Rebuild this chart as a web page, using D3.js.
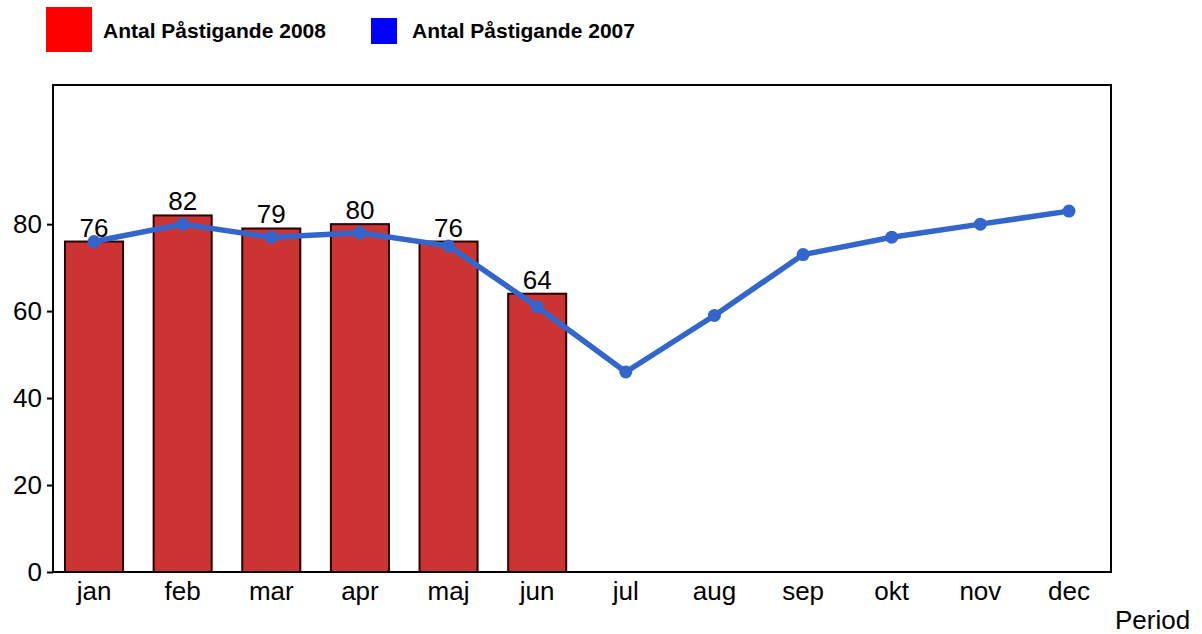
<!DOCTYPE html>
<html><head><meta charset="utf-8">
<script src="https://cdn.jsdelivr.net/npm/d3@7"></script>
<style>body{margin:0;background:#fff}svg{display:block;font-family:"Liberation Sans",Arial,sans-serif}</style>
</head><body>
<svg id="c" width="1202" height="634"></svg>
<script>
const months = ["jan","feb","mar","apr","maj","jun","jul","aug","sep","okt","nov","dec"];
const bars2008 = [76,82,79,80,76,64];
const line2007 = [76,80,77,78,75,61,46,59,73,77,80,83];
const yTicks = [0,20,40,60,80];
const legendLabels = ["Antal Påstigande 2008","Antal Påstigande 2007"];
const xTitle = "Period";

const svg = d3.select("#c");
const L = 53, R = 1111, T = 85, B = 572;
const x = d3.scaleBand().domain(months).range([49.7, 1113.3]).paddingInner(0.345).paddingOuter(0.1725);
const y = d3.scaleLinear().domain([0,112]).range([B, T]);
const cx = m => x(m) + x.bandwidth()/2;

// bars
svg.append("g").selectAll("rect").data(bars2008).join("rect")
  .attr("x",(d,i)=>x(months[i])).attr("y",d=>y(d))
  .attr("width",x.bandwidth()).attr("height",d=>B-y(d))
  .attr("fill","#CC3333").attr("stroke","#2a0000").attr("stroke-width",2);

// value labels
svg.append("g").selectAll("text").data(bars2008).join("text")
  .attr("x",(d,i)=>cx(months[i])).attr("y",d=>y(d)-5)
  .attr("text-anchor","middle").attr("font-size",26).attr("fill","#000").text(d=>d);

// line
const line = d3.line().x((d,i)=>cx(months[i])).y(d=>y(d));
svg.append("path").datum(line2007).attr("d",line).attr("fill","none")
  .attr("stroke","#3366CC").attr("stroke-width",5.5).attr("stroke-linejoin","round");
svg.append("g").selectAll("circle").data(line2007).join("circle")
  .attr("cx",(d,i)=>cx(months[i])).attr("cy",d=>y(d)).attr("r",6.5).attr("fill","#3366CC");

// frame
svg.append("rect").attr("x",L).attr("y",T).attr("width",R-L).attr("height",B-T)
  .attr("fill","none").attr("stroke","#000").attr("stroke-width",2);

// y axis
const ya = svg.append("g").attr("transform",`translate(${L},0)`)
  .call(d3.axisLeft(y).tickValues(yTicks).tickSize(6).tickPadding(5));
ya.select(".domain").remove();
ya.selectAll("line").attr("stroke","#000").attr("stroke-width",2);
ya.selectAll("text").attr("font-size",26).attr("font-family","Liberation Sans, Arial, sans-serif").attr("fill","#000");

// x axis
const xa = svg.append("g").attr("transform",`translate(0,${B})`)
  .call(d3.axisBottom(x).tickSize(0).tickPadding(10));
xa.select(".domain").remove();
xa.selectAll("text").attr("font-size",26).attr("font-family","Liberation Sans, Arial, sans-serif").attr("fill","#000");

svg.append("text").attr("x",1115).attr("y",629).attr("font-size",26).attr("fill","#000").text(xTitle);

// legend
const lg = svg.append("g");
lg.append("rect").attr("x",46).attr("y",7).attr("width",46).attr("height",45).attr("fill","#FF0000");
lg.append("text").attr("x",103).attr("y",38).attr("font-size",21).attr("font-weight","bold").text(legendLabels[0]);
lg.append("rect").attr("x",371).attr("y",18).attr("width",26).attr("height",26).attr("fill","#0000FF");
lg.append("text").attr("x",412).attr("y",38).attr("font-size",21).attr("font-weight","bold").text(legendLabels[1]);
</script>
</body></html>
